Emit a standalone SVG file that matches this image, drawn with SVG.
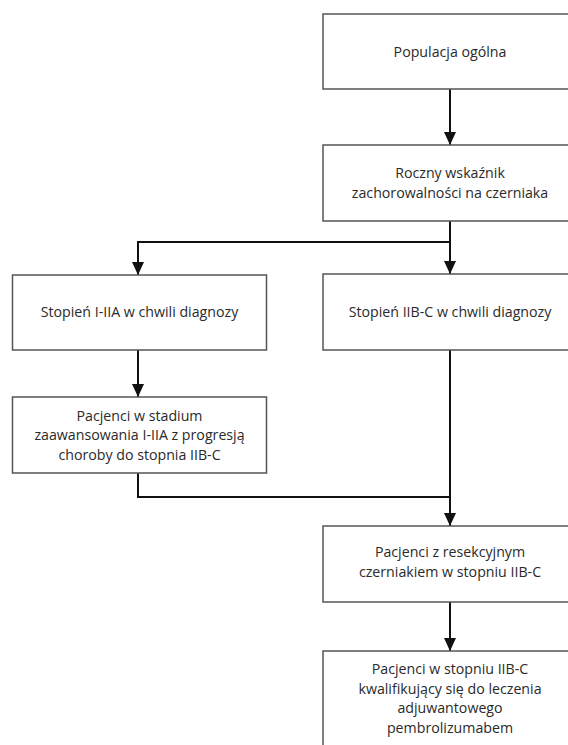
<svg xmlns="http://www.w3.org/2000/svg" width="568" height="745" viewBox="0 0 568 745">
<style>
.box{fill:#fff;stroke:#555;stroke-width:1.5}
.t{font-family:"Open Sans","Noto Sans",sans-serif;font-size:14.2px;fill:#2a2a2a;text-anchor:middle;dominant-baseline:central}
.c{fill:none;stroke:#111;stroke-width:2}
.a{marker-end:url(#ah)}
</style>
<defs>
<marker id="ah" markerUnits="userSpaceOnUse" markerWidth="13" markerHeight="12" refX="13" refY="6" orient="auto" viewBox="0 0 13 12">
<path d="M0,0 L13,6 L0,12 Z" fill="#111"/>
</marker>
</defs>
<rect width="568" height="745" fill="#fff"/>
<g id="connectors">
<path class="c a" d="M450,89 V145"/>
<path class="c a" d="M450,221 V274"/>
<path class="c a" d="M450,242 H138 V275"/>
<path class="c a" d="M138,350 V397"/>
<path class="c" d="M138,473 V497 H450"/>
<path class="c a" d="M450,350 V526"/>
<path class="c a" d="M450,602 V651"/>
</g>
<g id="n1">
<rect class="box" x="323" y="14" width="254" height="75"/>
<text class="t" x="450" y="51">Populacja ogólna</text>
</g>
<g id="n2">
<rect class="box" x="323" y="145" width="254" height="76"/>
<text class="t" x="450" y="172.5">Roczny wskaźnik</text>
<text class="t" x="450" y="192">zachorowalności na czerniaka</text>
</g>
<g id="n3">
<rect class="box" x="12.5" y="275" width="254" height="75"/>
<text class="t" x="139.5" y="311">Stopień I-IIA w chwili diagnozy</text>
</g>
<g id="n4">
<rect class="box" x="323" y="274" width="254" height="76"/>
<text class="t" x="450" y="311">Stopień IIB-C w chwili diagnozy</text>
</g>
<g id="n5">
<rect class="box" x="12.5" y="397" width="254" height="76"/>
<text class="t" x="139.5" y="415">Pacjenci w stadium</text>
<text class="t" x="139.5" y="434.5">zaawansowania I-IIA z progresją</text>
<text class="t" x="139.5" y="454">choroby do stopnia IIB-C</text>
</g>
<g id="n6">
<rect class="box" x="323" y="526" width="254" height="76"/>
<text class="t" x="450" y="551.5">Pacjenci z resekcyjnym</text>
<text class="t" x="450" y="571">czerniakiem w stopniu IIB-C</text>
</g>
<g id="n7">
<rect class="box" x="323" y="651" width="254" height="110"/>
<text class="t" x="450" y="668.5">Pacjenci w stopniu IIB-C</text>
<text class="t" x="450" y="688">kwalifikujący się do leczenia</text>
<text class="t" x="450" y="707.5">adjuwantowego</text>
<text class="t" x="450" y="727">pembrolizumabem</text>
</g>
</svg>
